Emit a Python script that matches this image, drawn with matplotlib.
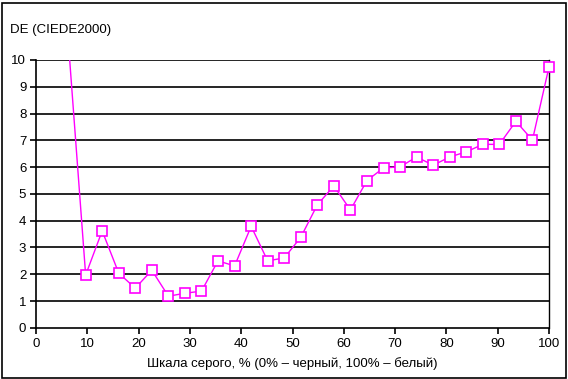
import matplotlib
matplotlib.use("Agg")
import matplotlib.pyplot as plt
from matplotlib.patches import Rectangle

plt.rcParams['font.family'] = ['Liberation Sans', 'DejaVu Sans']

gray_pct = [6.45, 9.68, 12.90, 16.13, 19.35, 22.58, 25.81, 29.03, 32.26,
            35.48, 38.71, 41.94, 45.16, 48.39, 51.61, 54.84, 58.06, 61.29, 64.52,
            67.74, 70.97, 74.19, 77.42, 80.65, 83.87, 87.10, 90.32, 93.55, 96.77, 100.0]
de_values = [10.3, 1.97, 3.62, 2.04, 1.48, 2.15, 1.18, 1.29, 1.37,
             2.50, 2.31, 3.79, 2.50, 2.61, 3.38, 4.59, 5.30, 4.40, 5.50,
             5.97, 6.01, 6.38, 6.07, 6.38, 6.57, 6.85, 6.85, 7.71, 7.01, 9.74]
x_ticks = [0, 10, 20, 30, 40, 50, 60, 70, 80, 90, 100]
y_ticks = [0, 1, 2, 3, 4, 5, 6, 7, 8, 9, 10]

W, H = 568, 379
fig = plt.figure(figsize=(W / 100, H / 100), dpi=100)
L, R, T, B = 36, 549, 60, 327.8
ax = fig.add_axes([L / W, 1 - B / H, (R - L) / W, (B - T) / H])

for v in y_ticks[1:]:
    ax.axhline(v, color='black', lw=1.2, zorder=1)

ax.plot(gray_pct, de_values, color='#FF00FF', lw=1.0, zorder=2, clip_on=True)
mx = [x for x, y in zip(gray_pct, de_values) if y <= 10]
my = [y for y in de_values if y <= 10]
ax.plot(mx, my, ls='none', marker='s', ms=6.6, mfc='white', mec='#FF00FF',
        mew=1.2, zorder=3, clip_on=False)

ax.set_xlim(0, 100)
ax.set_ylim(0, 10)
ax.set_xticks(x_ticks)
ax.set_yticks(y_ticks)
ax.tick_params(direction='out', length=4, width=1.2, colors='black',
               labelsize=9.5, pad=3)
ax.spines['top'].set_visible(False)
for s in ['left', 'bottom']:
    ax.spines[s].set_linewidth(1.2)
ax.spines['right'].set_linewidth(1.0)
ax.set_facecolor('white')

fig.text(10 / W, 1 - 30 / H, 'DE (CIEDE2000)', fontsize=9.5, va='center', ha='left')
fig.text((L + R) / 2 / W, 1 - 364 / H, 'Шкала серого, % (0% – черный, 100% – белый)',
         fontsize=9.5, va='center', ha='center')

fig.add_artist(Rectangle((2 / W, 1.5 / H), (W - 4.5) / W, (H - 4) / H,
                         transform=fig.transFigure, fill=False, ec='black', lw=1.2))

fig.savefig('out.png', dpi=100)
